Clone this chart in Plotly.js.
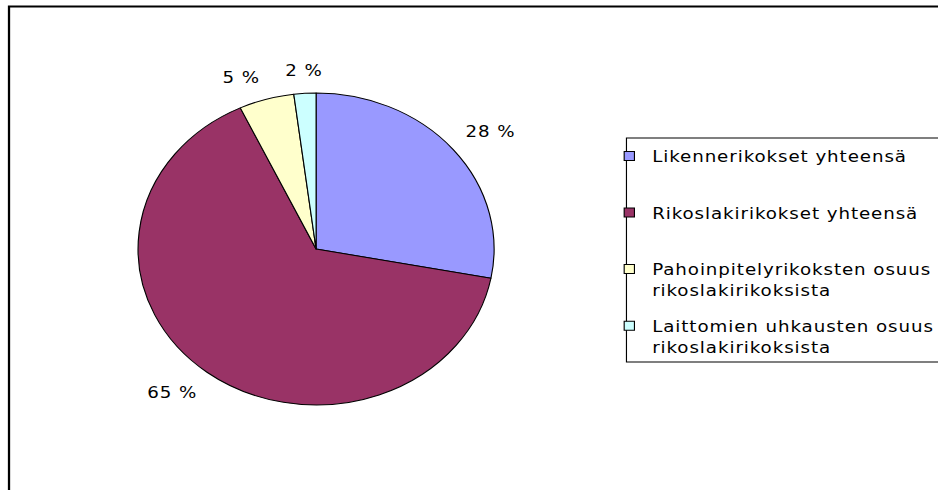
<!DOCTYPE html>
<html>
<head>
<meta charset="utf-8">
<script src="https://cdn.plot.ly/plotly-3.0.1.min.js"></script>
<style>
  html, body { margin: 0; padding: 0; background: #fff; overflow: hidden; }
  #chart { width: 822px; height: 490px; transform: scaleX(1.1411); transform-origin: 0 0; }
  .legendtext, .annotation-text { letter-spacing: 0.8px; }
</style>
</head>
<body>
<div id="chart"></div>
<script>
// Data
const categories = [
  "Likennerikokset yhteensä",
  "Rikoslakirikokset yhteensä",
  "Pahoinpitelyrikoksten osuus<br>rikoslakirikoksista",
  "Laittomien uhkausten osuus<br>rikoslakirikoksista"
];
const values = [28, 65, 5, 2];
const colors = ["#9999FF", "#993366", "#FFFFCC", "#CCFFFF"];

const FONT = "DejaVu Sans, Arial, sans-serif";
const W = 822, H = 490;
const pieDomain = { x: [121 / W, 433 / W], y: [1 - 405 / H, 1 - 93 / H] };

const pie = {
  type: "pie",
  labels: categories,
  values: values,
  sort: false,
  direction: "clockwise",
  rotation: 0,
  marker: { colors: colors, line: { color: "#000000", width: 1 } },
  textinfo: "none",
  hoverinfo: "none",
  showlegend: false,
  domain: pieDomain
};

// Percentage labels placed just outside each slice's mid-angle (derived from the values)
const total = values.reduce((a, b) => a + b, 0);
const cxPx = (pieDomain.x[0] + pieDomain.x[1]) / 2 * W;
const cyPx = (1 - (pieDomain.y[0] + pieDomain.y[1]) / 2) * H;
const rPx = Math.min((pieDomain.x[1] - pieDomain.x[0]) * W, (pieDomain.y[1] - pieDomain.y[0]) * H) / 2;
let cum = 0;
const labelAnnotations = values.map((v) => {
  const a = (cum + v / 2) / total * 2 * Math.PI;
  cum += v;
  const s = Math.sin(a), c = Math.cos(a);
  const px = cxPx + rPx * 1.07 * s;
  const py = cyPx - rPx * 1.07 * c;
  return {
    xref: "paper", yref: "paper",
    x: px / W, y: 1 - py / H,
    text: Math.round(v / total * 100) + " %",
    showarrow: false,
    xanchor: s > 0.2 ? "left" : (s < -0.2 ? "right" : "center"),
    yanchor: c > 0.3 ? "bottom" : (c < -0.3 ? "top" : "middle"),
    font: { family: FONT, size: 16, color: "#000000" }
  };
});

// Legend entries (one per category, same colours)
const legendTraces = categories.map((c, i) => ({
  type: "scatter",
  mode: "markers",
  x: [null], y: [null],
  name: c.indexOf("<br>") >= 0 ? c : c + "<br>&nbsp;",
  legendgroup: "g" + i,
  showlegend: true,
  hoverinfo: "skip",
  marker: { symbol: "square", size: 9, color: colors[i], line: { color: "#000000", width: 1 } }
}));

const layout = {
  width: W, height: H,
  margin: { l: 0, r: 0, t: 0, b: 0, autoexpand: false },
  paper_bgcolor: "#ffffff",
  plot_bgcolor: "rgba(0,0,0,0)",
  font: { family: FONT, size: 16, color: "#000000" },
  xaxis: { visible: false, domain: [0, 1] },
  yaxis: { visible: false, domain: [0, 1] },
  showlegend: true,
  legend: {
    x: 531.5 / W, y: 1 - 139 / H, xanchor: "left", yanchor: "top",
    bgcolor: "rgba(0,0,0,0)", borderwidth: 0,
    tracegroupgap: 12, valign: "top",
    font: { family: FONT, size: 16, color: "#000000" }
  },
  annotations: labelAnnotations,
  shapes: [
    { type: "rect", xref: "paper", yref: "paper",
      x0: 7.9 / W, x1: 1.1, y0: -0.1, y1: 1 - 6.5 / H,
      line: { color: "#000000", width: 2 }, fillcolor: "rgba(0,0,0,0)" },
    { type: "rect", xref: "paper", yref: "paper",
      x0: 549 / W, x1: 1.05, y0: 1 - 362 / H, y1: 1 - 138 / H,
      line: { color: "#000000", width: 1 }, fillcolor: "rgba(0,0,0,0)" }
  ]
};

Plotly.newPlot("chart", [pie].concat(legendTraces), layout, { staticPlot: true, displayModeBar: false });
</script>
</body>
</html>
